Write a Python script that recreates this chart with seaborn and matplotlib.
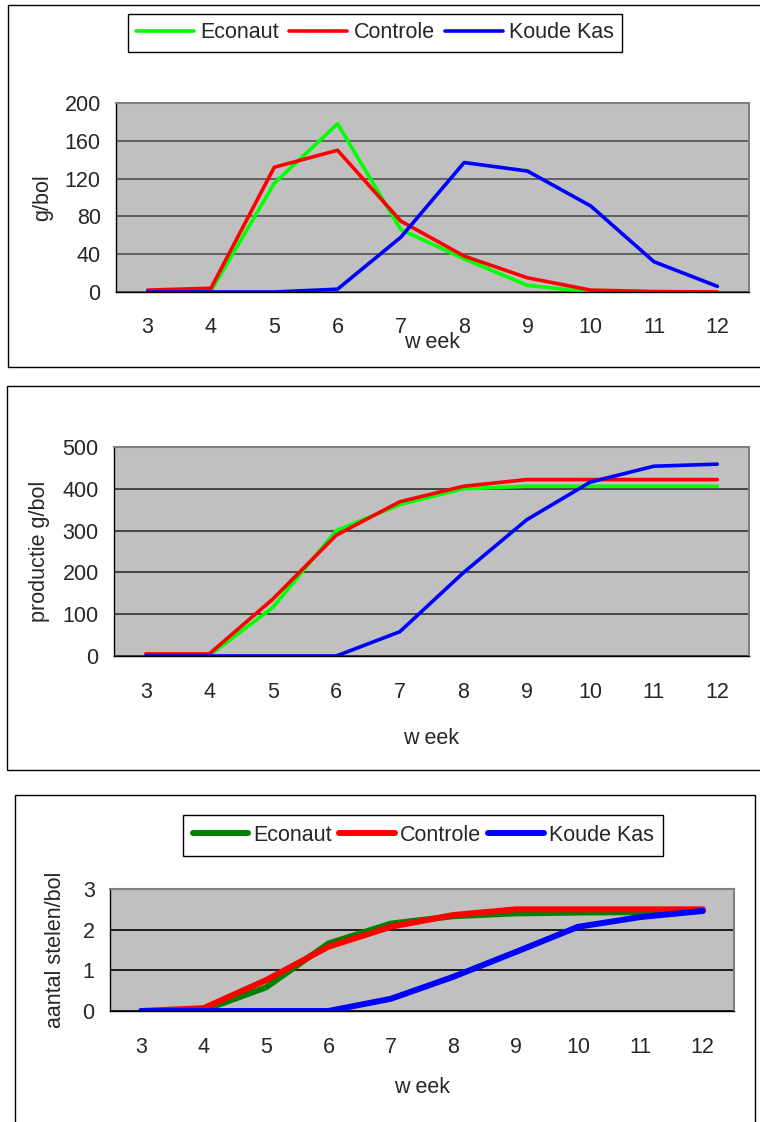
import numpy as np
import pandas as pd
import matplotlib
matplotlib.use("Agg")
import matplotlib.pyplot as plt
from matplotlib.patches import Rectangle
import seaborn as sns

weeks = [3, 4, 5, 6, 7, 8, 9, 10, 11, 12]
series = ["Econaut", "Controle", "Koude Kas"]

# productie per week (g/bol)
econaut_week = [0, 1, 115, 178, 66, 35, 7, 0, 0, 0]
controle_week = [2, 4, 132, 150, 75, 38, 15, 2, 0.5, 0]
koude_week = [0, 0, 0, 3, 58, 137, 128, 91, 32, 6]

# cumulatieve productie (g/bol)
econaut_cum = [0, 1, 116, 300, 362, 400, 406, 406, 406, 406]
controle_cum = [5, 5, 136, 289, 369, 406, 422, 422, 422, 422]
koude_cum = [0, 0, 0, 0, 58, 199, 326, 416, 454, 459]

# aantal stelen per bol
econaut_st = [0, 0.02, 0.58, 1.66, 2.15, 2.33, 2.40, 2.42, 2.43, 2.47]
controle_st = [0, 0.07, 0.76, 1.58, 2.07, 2.36, 2.50, 2.50, 2.50, 2.50]
koude_st = [0, 0, 0, 0, 0.30, 0.84, 1.45, 2.07, 2.31, 2.46]

sns.set_theme(style="white")
plt.rcParams['font.family'] = ['Liberation Sans', 'DejaVu Sans']
FS = 15.5

W, H = 760, 1122
fig = plt.figure(figsize=(W / 100, H / 100), dpi=100)


def box(x0, y0, x1, y1):
    # pixel box -> figure fraction [left, bottom, width, height]
    return [x0 / W, 1 - y1 / H, (x1 - x0) / W, (y1 - y0) / H]


def panel(rect, vals, colors, lw, yticks, ylabel, ylab_x, xlab_y, tickpad, gridcol):
    ax = fig.add_axes(box(*rect))
    df = pd.DataFrame({
        "week": weeks * 3,
        "value": vals[0] + vals[1] + vals[2],
        "serie": [s for s in series for _ in weeks],
    })
    sns.lineplot(data=df, x="week", y="value", hue="serie", hue_order=series,
                 palette=dict(zip(series, colors)), linewidth=lw, ax=ax,
                 legend=False, solid_capstyle="round", solid_joinstyle="round")
    ax.set_facecolor("#C0C0C0")
    ax.set_xlim(2.5, 12.5)
    ax.set_ylim(yticks[0], yticks[-1])
    ax.set_yticks(yticks)
    ax.set_yticklabels([f"{t:g}" for t in yticks])
    ax.set_xticks(np.arange(2.5, 13, 1))
    ax.set_xticklabels([])
    ax.set_xticks(weeks, minor=True)
    ax.set_xticklabels([str(w) for w in weeks], minor=True)
    ax.tick_params(axis="x", which="major", direction="out", length=5, width=1, color="black")
    ax.tick_params(axis="x", which="minor", length=0, pad=tickpad, labelsize=FS)
    ax.tick_params(axis="y", direction="out", length=5, width=1, color="black", pad=6, labelsize=FS)
    ax.yaxis.grid(True, color=gridcol, lw=1.2)
    ax.set_axisbelow(True)
    for s in ["top", "right"]:
        ax.spines[s].set_color("#808080")
        ax.spines[s].set_linewidth(1.5)
    for s in ["left", "bottom"]:
        ax.spines[s].set_color("black")
        ax.spines[s].set_linewidth(1)
    ax.set_ylabel(ylabel, fontsize=FS)
    ax.yaxis.set_label_coords(ylab_x, 0.5)
    ax.set_xlabel("w eek", fontsize=FS)
    ax.xaxis.set_label_coords(0.5, xlab_y)
    return ax


ax1 = panel((116, 103, 749, 292), [econaut_week, controle_week, koude_week],
            ["#00FF00", "#FF0000", "#0000FF"], 2.6, [0, 40, 80, 120, 160, 200],
            "g/bol", -0.10, -0.21, 18, "#505050")
ax2 = panel((114, 447, 749, 656), [econaut_cum, controle_cum, koude_cum],
            ["#00FF00", "#FF0000", "#0000FF"], 2.6, [0, 100, 200, 300, 400, 500],
            "productie g/bol", -0.10, -0.345, 19, "#303030")
ax3 = panel((110, 889, 734, 1011), [econaut_st, controle_st, koude_st],
            ["#008000", "#FF0000", "#0000FF"], 4.3, [0, 1, 2, 3],
            "aantal stelen/bol", -0.07, -0.54, 19, "black")

leg1 = fig.legend(ax1.get_lines()[:3], series, loc="center",
                  bbox_to_anchor=(375 / W, 1 - 33 / H), ncol=3, fontsize=FS,
                  frameon=True, fancybox=False, edgecolor="black", framealpha=1,
                  handlelength=2.7, handletextpad=0.28, columnspacing=0.47,
                  borderpad=0.4)
leg1.get_frame().set_linewidth(1)
leg3 = fig.legend(ax3.get_lines()[:3], series, loc="center",
                  bbox_to_anchor=(423 / W, 1 - 835.5 / H), ncol=3, fontsize=FS,
                  frameon=True, fancybox=False, edgecolor="black", framealpha=1,
                  handlelength=2.6, handletextpad=0.22, columnspacing=0.33,
                  borderpad=0.45)
leg3.get_frame().set_linewidth(1)

# chart frames
for x0, y0, x1, y1 in [(8, 5, 762, 367), (7, 386, 762, 770), (15, 795, 755, 1126)]:
    fig.add_artist(Rectangle((x0 / W, 1 - y1 / H), (x1 - x0) / W, (y1 - y0) / H,
                             transform=fig.transFigure, fill=False,
                             edgecolor="black", lw=1))

fig.savefig("out.png", dpi=100)
